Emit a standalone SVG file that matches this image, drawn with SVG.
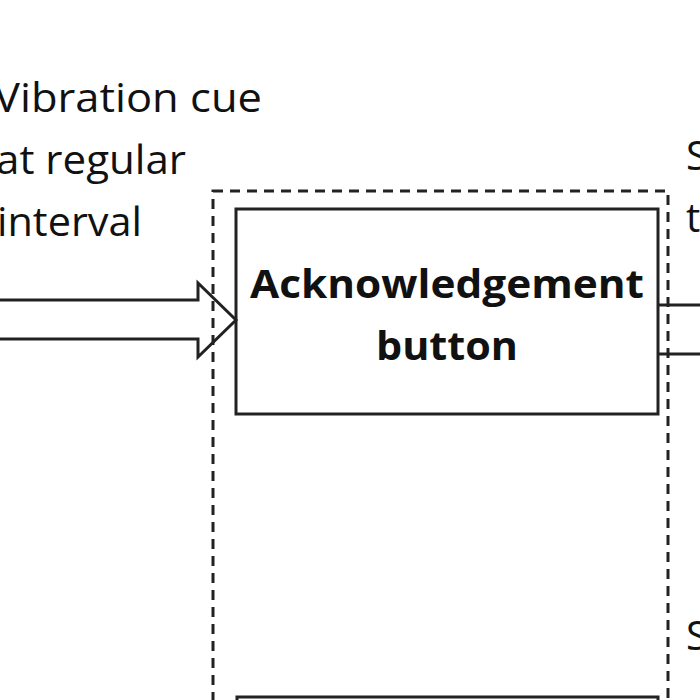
<svg xmlns="http://www.w3.org/2000/svg" width="700" height="700" viewBox="0 0 700 700">
<style>
.t{font-family:"Open Sans","Liberation Sans",sans-serif;font-size:40px;fill:#111}
.b{font-weight:bold;text-anchor:middle}
.ln{fill:none;stroke:#222;stroke-width:3}
</style>
<rect width="700" height="700" fill="#fff"/>
<g id="group">
<rect x="213" y="191" width="455" height="540" fill="none" stroke="#222" stroke-width="3" stroke-dasharray="10,7"/>
</g>
<g id="ack">
<rect class="ln" x="236" y="209" width="422" height="205"/>
<text class="t b" x="447" y="298" textLength="394" lengthAdjust="spacingAndGlyphs">Acknowledgement</text>
<text class="t b" x="447" y="360" textLength="142" lengthAdjust="spacingAndGlyphs">button</text>
</g>
<g id="lower">
<rect class="ln" x="237" y="697" width="421" height="40"/>
</g>
<g id="labels">
<text class="t" x="-6" y="112" textLength="268" lengthAdjust="spacingAndGlyphs">Vibration cue</text>
<text class="t" x="-4" y="174" textLength="190" lengthAdjust="spacingAndGlyphs">at regular</text>
<text class="t" x="-3" y="236" textLength="145" lengthAdjust="spacingAndGlyphs">interval</text>
<text class="t" x="686" y="170">S</text>
<text class="t" x="686" y="232">t</text>
<text class="t" x="686" y="650">S</text>
</g>
<g id="connectors">
<path class="ln" d="M0 300 H198 V283 L236 320 L198 357 V339 H0"/>
<line class="ln" x1="658" y1="305" x2="700" y2="305"/>
<line class="ln" x1="658" y1="354" x2="700" y2="354"/>
</g>
</svg>
